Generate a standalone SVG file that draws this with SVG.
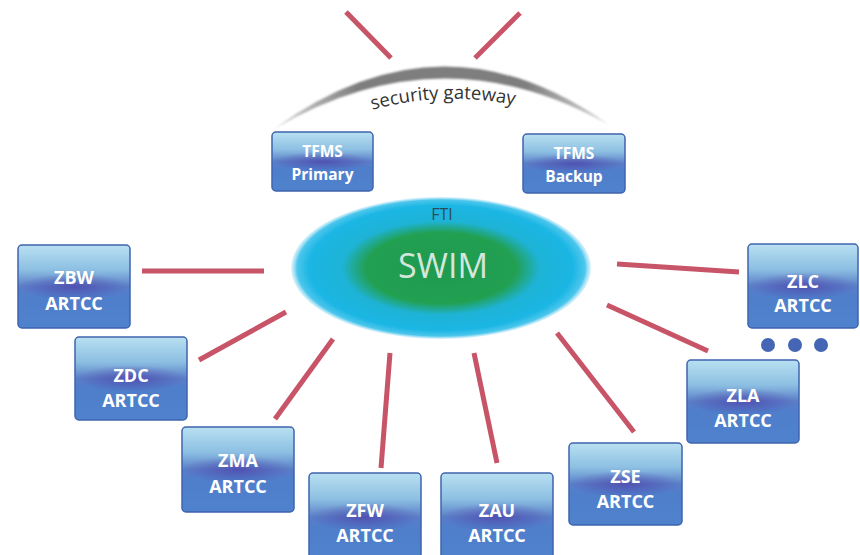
<svg xmlns="http://www.w3.org/2000/svg" width="860" height="555" viewBox="0 0 860 555">
  <defs>
    <linearGradient id="boxGrad" x1="0" y1="0" x2="0" y2="1">
      <stop offset="0" stop-color="#b9e0f1"/>
      <stop offset="0.3" stop-color="#8cbfe2"/>
      <stop offset="0.5" stop-color="#5b7fc8"/>
      <stop offset="0.62" stop-color="#4f7ecb"/>
      <stop offset="1" stop-color="#4f82cd"/>
    </linearGradient>
    <radialGradient id="boxGlow" cx="0.5" cy="0.5" r="0.5" gradientTransform="translate(0 0.5) scale(1 0.32) translate(0 -0.5)">
      <stop offset="0" stop-color="#4b3fa8" stop-opacity="0.7"/>
      <stop offset="1" stop-color="#4b3fa8" stop-opacity="0"/>
    </radialGradient>
    <radialGradient id="swimGrad" cx="0.5" cy="0.5" r="0.5">
      <stop offset="0" stop-color="#1f9a4f"/>
      <stop offset="0.5" stop-color="#22a052"/>
      <stop offset="0.66" stop-color="#1eb3d6"/>
      <stop offset="0.88" stop-color="#1bb6e4"/>
      <stop offset="0.96" stop-color="#4cc6ec"/>
      <stop offset="1" stop-color="#a8e2f6" stop-opacity="0.4"/>
    </radialGradient>
    <linearGradient id="arcGrad" x1="0" y1="0" x2="1" y2="0">
      <stop offset="0" stop-color="#d8d8d8"/>
      <stop offset="0.25" stop-color="#7e7e7e"/>
      <stop offset="0.75" stop-color="#7e7e7e"/>
      <stop offset="1" stop-color="#d8d8d8"/>
    </linearGradient>
    <filter id="soft" x="-10%" y="-50%" width="120%" height="200%">
      <feGaussianBlur stdDeviation="1.3"/>
    </filter>
    <path id="gwText" d="M 352 116 Q 443 85 535 110"/>
  </defs>
  <style>
    .link { stroke: #c85468; stroke-width: 5; fill: none; }
    .box { fill: url(#boxGrad); stroke: #3f64ae; stroke-width: 1.5; }
    .glow { fill: url(#boxGlow); }
    .lbl { font-family: "Open Sans", "Liberation Sans", sans-serif; font-weight: bold; font-size: 18px; fill: #ffffff; text-anchor: middle; }
    .lbl-s { font-size: 15.5px; }
    .dot { fill: #4466b4; }
  </style>

  <!-- security gateway -->
  <g id="security-gateway">
    <path d="M 274 129 Q 442 6 609 125 Q 442 30 274 129 Z" fill="url(#arcGrad)" filter="url(#soft)"/>
    <text font-family="'Open Sans', 'Liberation Sans', sans-serif" font-size="18.5" fill="#333333" text-anchor="middle"><textPath href="#gwText" startOffset="50%">security gateway</textPath></text>
  </g>

  <!-- connectors -->
  <g id="connectors">
    <line class="link" x1="346" y1="12" x2="391" y2="58"/>
    <line class="link" x1="520" y1="13" x2="475" y2="58"/>
    <line class="link" x1="142" y1="271" x2="264" y2="271"/>
    <line class="link" x1="199" y1="360" x2="286" y2="312"/>
    <line class="link" x1="333" y1="339" x2="275" y2="419"/>
    <line class="link" x1="390" y1="353" x2="381" y2="468"/>
    <line class="link" x1="474" y1="353" x2="497" y2="463"/>
    <line class="link" x1="557" y1="333" x2="634" y2="432"/>
    <line class="link" x1="607" y1="305" x2="708" y2="351"/>
    <line class="link" x1="617" y1="264" x2="739" y2="272"/>
  </g>

  <!-- SWIM / FTI -->
  <g id="swim">
    <ellipse cx="441" cy="268" rx="150" ry="71" fill="url(#swimGrad)"/>
    <text x="442" y="220" font-family="'Open Sans', 'Liberation Sans', sans-serif" font-size="16" fill="#2a4d5a" text-anchor="middle">FTI</text>
    <text x="443" y="278" font-family="'Open Sans', 'Liberation Sans', sans-serif" font-size="34" fill="#d5e6dc" text-anchor="middle">SWIM</text>
  </g>

  <g id="tfms-primary">
    <rect class="box" x="272" y="132" width="101" height="59" rx="4"/>
    <rect class="glow" x="272" y="132" width="101" height="59" rx="4"/>
    <text class="lbl lbl-s" x="322.5" y="157">TFMS</text>
    <text class="lbl lbl-s" x="322.5" y="180">Primary</text>
  </g>
  <g id="tfms-backup">
    <rect class="box" x="523" y="134" width="102" height="59" rx="4"/>
    <rect class="glow" x="523" y="134" width="102" height="59" rx="4"/>
    <text class="lbl lbl-s" x="574" y="159">TFMS</text>
    <text class="lbl lbl-s" x="574" y="182">Backup</text>
  </g>

  <g id="zbw">
    <rect class="box" x="18" y="245" width="112" height="83" rx="4"/>
    <rect class="glow" x="18" y="245" width="112" height="83" rx="4"/>
    <text class="lbl" x="74" y="284">ZBW</text>
    <text class="lbl" x="74" y="310">ARTCC</text>
  </g>
  <g id="zdc">
    <rect class="box" x="75" y="337" width="112" height="83" rx="4"/>
    <rect class="glow" x="75" y="337" width="112" height="83" rx="4"/>
    <text class="lbl" x="131" y="382">ZDC</text>
    <text class="lbl" x="131" y="407">ARTCC</text>
  </g>
  <g id="zma">
    <rect class="box" x="182" y="427" width="112" height="85" rx="4"/>
    <rect class="glow" x="182" y="427" width="112" height="85" rx="4"/>
    <text class="lbl" x="238" y="467">ZMA</text>
    <text class="lbl" x="238" y="493">ARTCC</text>
  </g>
  <g id="zfw">
    <rect class="box" x="309" y="473" width="112" height="88" rx="4"/>
    <rect class="glow" x="309" y="473" width="112" height="88" rx="4"/>
    <text class="lbl" x="365" y="517">ZFW</text>
    <text class="lbl" x="365" y="542">ARTCC</text>
  </g>
  <g id="zau">
    <rect class="box" x="441" y="473" width="112" height="88" rx="4"/>
    <rect class="glow" x="441" y="473" width="112" height="88" rx="4"/>
    <text class="lbl" x="497" y="517">ZAU</text>
    <text class="lbl" x="497" y="542">ARTCC</text>
  </g>
  <g id="zse">
    <rect class="box" x="569" y="443" width="113" height="82" rx="4"/>
    <rect class="glow" x="569" y="443" width="113" height="82" rx="4"/>
    <text class="lbl" x="625.5" y="483">ZSE</text>
    <text class="lbl" x="625.5" y="508">ARTCC</text>
  </g>
  <g id="zla">
    <rect class="box" x="687" y="360" width="112" height="83" rx="4"/>
    <rect class="glow" x="687" y="360" width="112" height="83" rx="4"/>
    <text class="lbl" x="743" y="402">ZLA</text>
    <text class="lbl" x="743" y="427">ARTCC</text>
  </g>
  <g id="zlc">
    <rect class="box" x="748" y="244" width="110" height="84" rx="4"/>
    <rect class="glow" x="748" y="244" width="110" height="84" rx="4"/>
    <text class="lbl" x="803" y="288">ZLC</text>
    <text class="lbl" x="803" y="312">ARTCC</text>
  </g>

  <g id="more">
    <circle class="dot" cx="768" cy="345" r="7"/>
    <circle class="dot" cx="795" cy="345" r="7"/>
    <circle class="dot" cx="821" cy="345" r="7"/>
  </g>
</svg>
